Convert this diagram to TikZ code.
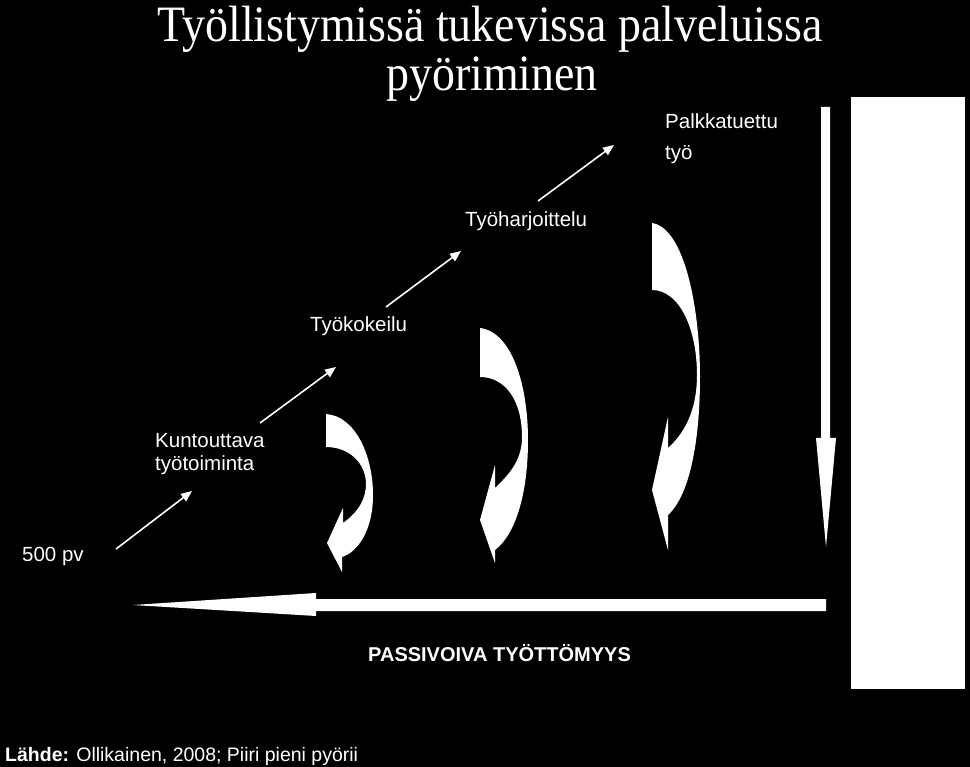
\documentclass[tikz,border=0pt]{standalone}
\usepackage{fontspec}
\setmainfont{Liberation Sans}
\newfontfamily\titlefont{Liberation Serif}
\usetikzlibrary{arrows.meta, positioning}

\begin{document}
\begin{tikzpicture}[x=1pt,y=-1pt,
   lbl/.style={text=white, inner sep=0pt, anchor=north west, align=left, font=\fontsize{20.5}{23}\selectfont},
   headline/.style={text=white, inner sep=0pt, anchor=base, xscale=0.9, font=\titlefont\fontsize{51}{60}\selectfont},
   climb/.style={white, line width=1.6pt, -{Triangle[length=11pt,width=9pt]}},
   bigarrow/.style={fill=white}]
   \fill[black] (0,0) rectangle (970,767);
   \useasboundingbox (0,0) rectangle (970,767);
   % title
   \node[headline] (title1) at (490,42) {Työllistymissä tukevissa palveluissa};
   \node[headline] (title2) at (492,91) {pyöriminen};
   % steps
   \node[lbl] (pv) at (22,547) {500 pv};
   \node[lbl] (kunt) at (155,433) {Kuntouttava\\työtoiminta};
   \node[lbl] (kokeilu) at (310,316) {Työkokeilu};
   \node[lbl] (harj) at (465,211) {Työharjoittelu};
   \node[lbl, font=\fontsize{20.5}{31}\selectfont] (palkka) at (665,113) {Palkkatuettu\\työ};
   \coordinate (a0) at (116,549); \coordinate (a1) at (192,491);
   \coordinate (b0) at (260,423); \coordinate (b1) at (336,367);
   \coordinate (c0) at (386,307); \coordinate (c1) at (461,251);
   \coordinate (d0) at (538,201); \coordinate (d1) at (614,145);
   \path[climb]
    (a0) edge (a1)
    (b0) edge (b1)
    (c0) edge (c1)
    (d0) edge (d1);
   % falling back
   \fill[white] (326,414) .. controls (355,416) and (373,455) .. (373,495)
      .. controls (373,530) and (358,552) .. (342,557) -- (342,572) -- (327,543) -- (343,508) -- (343,523)
      .. controls (360,511) and (366,497) .. (366,484) .. controls (366,464) and (350,447) .. (326,447) -- cycle;
   \fill[white] (480,328) .. controls (512,332) and (528,385) .. (528,440)
      .. controls (528,495) and (515,535) .. (495,550) -- (495,563) -- (480,520) -- (495,465) -- (495,488)
      .. controls (512,472) and (522,458) .. (522,437) .. controls (522,400) and (505,377) .. (480,377) -- cycle;
   \fill[white] (652,223) .. controls (685,228) and (700,310) .. (700,377)
      .. controls (700,440) and (690,495) .. (668,515) -- (668,550) -- (652,490) -- (668,417) -- (668,448)
      .. controls (688,430) and (697,405) .. (697,375) .. controls (697,330) and (680,290) .. (652,290) -- cycle;
   \fill[bigarrow] (821,107) -- (830,107) -- (830,438) -- (836,438) -- (826,547) -- (816,438) -- (821,438) -- cycle;
   \fill[bigarrow] (826,599) -- (316,599) -- (316,593) -- (133,605) -- (316,616) -- (316,611) -- (826,611) -- cycle;
   \fill[bigarrow] (851,97) rectangle (965,689);
   \node[lbl, font=\bfseries\fontsize{20}{23}\selectfont] (passiv) at (368,644) {PASSIVOIVA TYÖTTÖMYYS};
   % source
   \node[lbl, font=\fontsize{19.5}{23}\selectfont] (lahde) at (5,747) {\textbf{Lähde:} Ollikainen, 2008; Piiri pieni pyörii};
\end{tikzpicture}
\end{document}
